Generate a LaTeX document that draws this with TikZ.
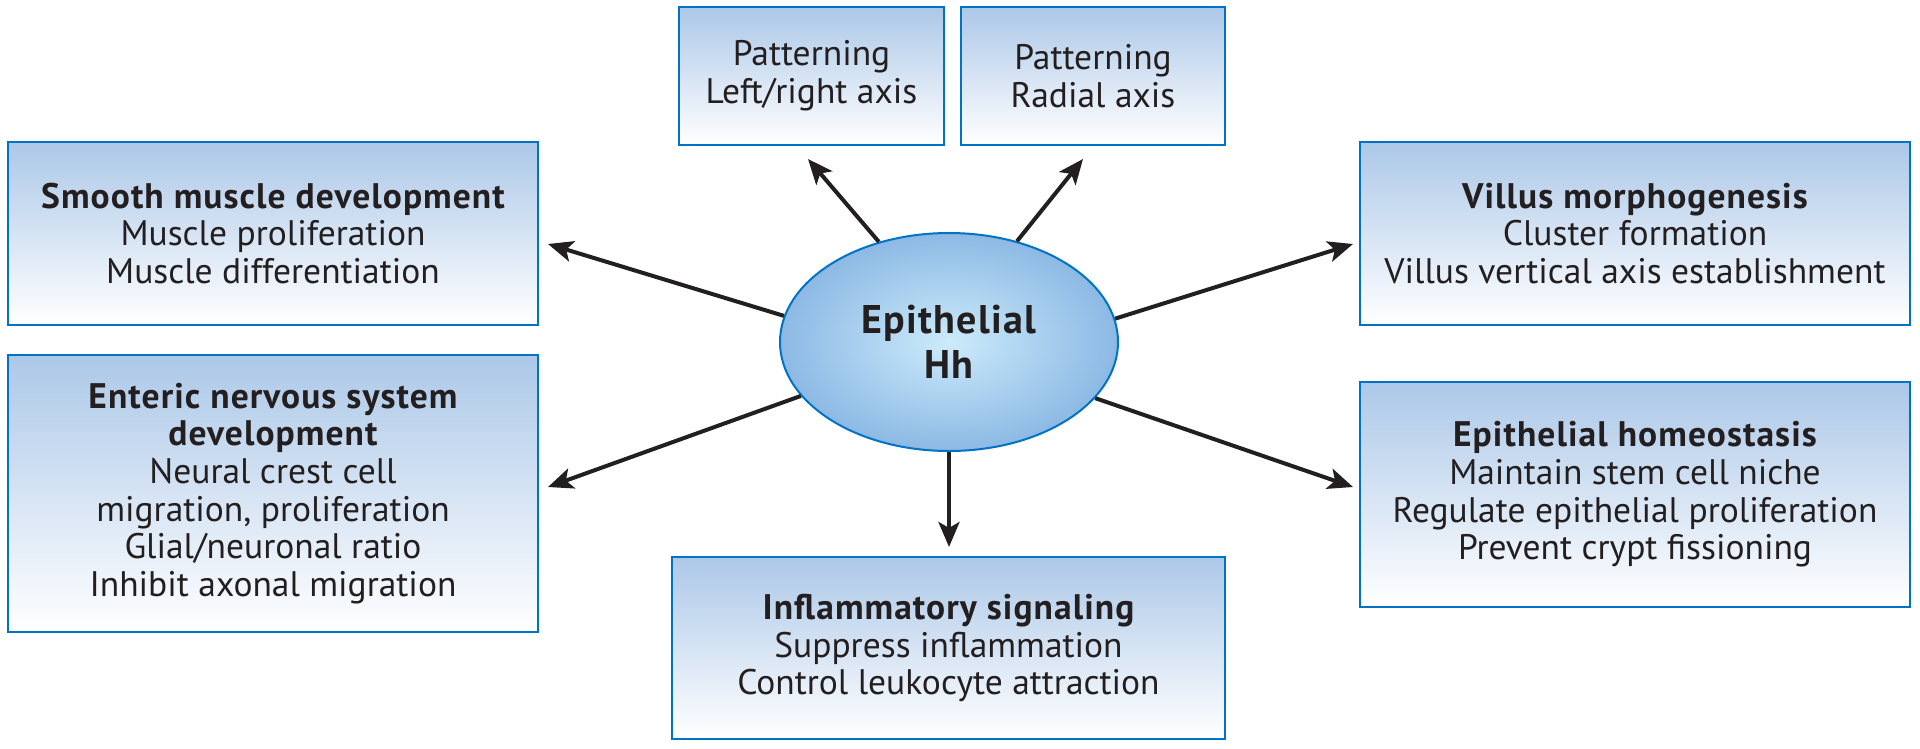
\documentclass[tikz,border=0pt]{standalone}
\usepackage{fontspec}
\setmainfont{PT Sans}
\usetikzlibrary{arrows.meta,shapes.geometric}
\definecolor{boxtop}{RGB}{172,200,232}
\definecolor{boxline}{RGB}{0,115,196}
\definecolor{ink}{RGB}{35,31,32}
\definecolor{ellin}{RGB}{204,235,251}
\definecolor{ellout}{RGB}{140,185,228}
\newcommand\hdr[1]{{\bfseries\addfontfeatures{LetterSpace=3}#1}}
\begin{document}
\begin{tikzpicture}[x=1pt,y=-1pt,
  box/.style={draw=boxline, line width=2pt, top color=boxtop, bottom color=white,
    align=center, text=ink, inner sep=0pt,
    font=\fontsize{35.5}{37.7}\selectfont},
  hub/.style={ellipse, draw=boxline, line width=2pt, inner color=ellin, outer color=ellout,
    minimum width=338pt, minimum height=218pt, inner sep=0pt, align=center, text=ink,
    font=\fontsize{40}{45}\selectfont},
  arr/.style={draw=ink, line width=4pt, -{Stealth[length=25pt,width=21pt,inset=6pt]}}]
\useasboundingbox (0,0) rectangle (1920,748);
\fill[white] (0,0) rectangle (1920,748);

\node[box, minimum width=530pt, minimum height=183pt] (smooth) at (273,233.5)
  {\hdr{Smooth muscle development}\\Muscle proliferation\\Muscle differentiation};
\node[box, minimum width=530pt, minimum height=277pt] (enteric) at (273,493.5)
  {\hdr{Enteric nervous system}\\\hdr{development}\\Neural crest cell\\migration, proliferation\\Glial/neuronal ratio\\Inhibit axonal migration};
\node[box, minimum width=265pt, minimum height=138pt] (lr) at (811.5,76)
  {Patterning\\Left/right axis};
\node[box, minimum width=264pt, minimum height=138pt] (rad) at (1093,76)
  {Patterning\\Radial axis};
\node[box, minimum width=550pt, minimum height=183pt] (villus) at (1635,233.5)
  {\hdr{Villus morphogenesis}\\Cluster formation\\Villus vertical axis establishment};
\node[box, minimum width=550pt, minimum height=225pt] (homeo) at (1635,494.5)
  {\hdr{Epithelial homeostasis}\\Maintain stem cell niche\\Regulate epithelial proliferation\\Prevent crypt fissioning};
\node[box, minimum width=553pt, minimum height=182pt] (infl) at (948.5,648)
  {\hdr{Inflammatory signaling}\\Suppress inflammation\\Control leukocyte attraction};

\node[hub] (hh) at (949,342) {\hdr{Epithelial}\\\hdr{Hh}};

\coordinate (tlr) at (808,159);
\coordinate (trad) at (1083,159);
\coordinate (tsm) at (548,244);
\coordinate (ten) at (548,487);
\coordinate (tvi) at (1353,244);
\coordinate (tho) at (1353,487);
\coordinate (tin) at (949,547);

\draw[arr] (hh.125.8) -- (tlr);
\draw[arr] (hh.56.6) -- (trad);
\draw[arr] (hh.171.4) -- (tsm);
\draw[arr] (hh.200.9) -- (ten);
\draw[arr] (hh.8.2) -- (tvi);
\draw[arr] (hh.339.6) -- (tho);
\draw[arr] (hh.south) -- (tin);
\end{tikzpicture}
\end{document}
